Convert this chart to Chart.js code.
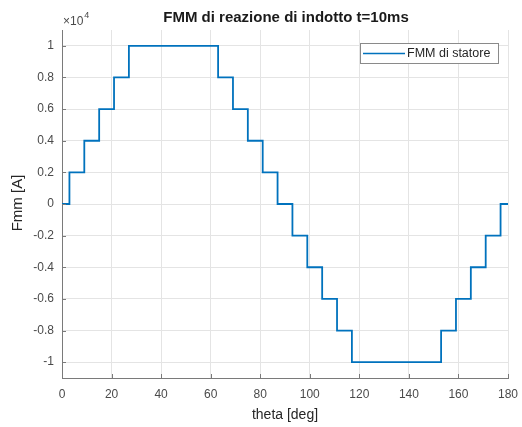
<!DOCTYPE html>
<html>
<head>
<meta charset="utf-8">
<script src="https://cdn.jsdelivr.net/npm/chart.js@4"></script>
<style>
  html, body { margin: 0; padding: 0; background: #fff; }
  #wrap { width: 522px; height: 427px; }
</style>
</head>
<body>
<div id="wrap"><canvas id="fmmChart" width="522" height="427"></canvas></div>
<script>
// ================== DATA ==================
const thetaDeg = [0, 3, 9, 15, 21, 27, 63, 69, 75, 81, 87, 93, 99, 105, 111, 117, 153, 159, 165, 171, 177, 180];
const fmmStatore = [0, 2000, 4000, 6000, 8000, 10000, 8000, 6000, 4000, 2000, 0, -2000, -4000, -6000, -8000, -10000, -8000, -6000, -4000, -2000, 0, 0];
const xTicks = [0, 20, 40, 60, 80, 100, 120, 140, 160, 180];
const yTicks = [-10000, -8000, -6000, -4000, -2000, 0, 2000, 4000, 6000, 8000, 10000];

const titleText = "FMM di reazione di indotto t=10ms";
const seriesLabel = "FMM di statore";
const xLabel = "theta [deg]";
const yLabel = "Fmm [A]";

// ================== STYLE ==================
const FONT = "'Liberation Sans', Arial, sans-serif";
const LINE_BLUE = "#0072BD";
const AXIS_GREY = "#7a7a7a";
const TEXT_GREY = "#4a4a4a";

// ================== DECORATIONS ==================
const decorations = {
  id: "decorations",
  afterDraw(chart) {
    const ctx = chart.ctx;
    const area = chart.chartArea;
    const xs = chart.scales.x;
    const ys = chart.scales.y;
    ctx.save();

    // inward tick marks
    ctx.strokeStyle = AXIS_GREY;
    ctx.lineWidth = 1;
    ctx.beginPath();
    xTicks.forEach(t => {
      const px = Math.round(xs.getPixelForValue(t)) + 0.5;
      ctx.moveTo(px, area.bottom);
      ctx.lineTo(px, area.bottom - 4);
    });
    yTicks.forEach(t => {
      const py = Math.round(ys.getPixelForValue(t)) + 0.5;
      ctx.moveTo(area.left, py);
      ctx.lineTo(area.left + 4, py);
    });
    ctx.stroke();

    // title
    ctx.fillStyle = "#1a1a1a";
    ctx.font = "bold 15px " + FONT;
    ctx.textAlign = "center";
    ctx.textBaseline = "middle";
    ctx.fillText(titleText, 286, 18);

    // exponent label
    ctx.fillStyle = TEXT_GREY;
    ctx.textAlign = "left";
    ctx.textBaseline = "alphabetic";
    ctx.font = "12px " + FONT;
    ctx.fillText("\u00d710", area.left + 1, 25);
    const w = ctx.measureText("\u00d710").width;
    ctx.font = "9px " + FONT;
    ctx.fillText("4", area.left + 1 + w + 1, 18);

    // y axis label
    ctx.save();
    ctx.translate(18, 203);
    ctx.rotate(-Math.PI / 2);
    ctx.fillStyle = "#262626";
    ctx.textAlign = "center";
    ctx.textBaseline = "middle";
    ctx.font = "15px " + FONT;
    ctx.fillText(yLabel, 0, 0);
    ctx.restore();

    // legend
    const lx = 360, ly = 43, lw = 138, lh = 20;
    ctx.fillStyle = "#ffffff";
    ctx.fillRect(lx, ly, lw, lh);
    ctx.strokeStyle = "#8a8a8a";
    ctx.lineWidth = 1;
    ctx.strokeRect(lx + 0.5, ly + 0.5, lw, lh);
    ctx.strokeStyle = LINE_BLUE;
    ctx.lineWidth = 1.6;
    ctx.beginPath();
    ctx.moveTo(lx + 3, ly + 10.5);
    ctx.lineTo(lx + 45, ly + 10.5);
    ctx.stroke();
    ctx.fillStyle = "#262626";
    ctx.font = "12.5px " + FONT;
    ctx.textAlign = "left";
    ctx.textBaseline = "middle";
    ctx.fillText(seriesLabel, lx + 47, ly + 11);

    ctx.restore();
  }
};

// ================== CHART ==================
const ctx = document.getElementById("fmmChart").getContext("2d");
new Chart(ctx, {
  type: "line",
  data: {
    datasets: [{
      label: seriesLabel,
      data: thetaDeg.map((t, i) => ({ x: t, y: fmmStatore[i] })),
      stepped: "before",
      borderColor: LINE_BLUE,
      borderWidth: 1.8,
      pointRadius: 0,
      fill: false
    }]
  },
  options: {
    responsive: false,
    animation: false,
    layout: { padding: { left: 0, right: 14, top: 30, bottom: 0 } },
    plugins: {
      legend: { display: false },
      title: { display: false },
      tooltip: { enabled: false }
    },
    scales: {
      x: {
        type: "linear",
        min: 0,
        max: 180,
        afterBuildTicks: s => { s.ticks = xTicks.map(v => ({ value: v })); },
        afterFit: s => {
          s.height = 49;
          s.paddingLeft = 0;
          s.paddingRight = 0;
        },
        grid: { color: "#e4e4e4", drawTicks: false },
        border: { color: AXIS_GREY, width: 1 },
        ticks: {
          color: TEXT_GREY,
          padding: 9,
          maxRotation: 0,
          font: { family: FONT, size: 12 }
        },
        title: {
          display: true,
          text: xLabel,
          color: "#262626",
          padding: { top: 2, bottom: 3 },
          font: { family: FONT, size: 14 }
        }
      },
      y: {
        type: "linear",
        min: -11000,
        max: 11000,
        afterBuildTicks: s => { s.ticks = yTicks.map(v => ({ value: v })); },
        afterFit: s => {
          s.width = 62;
          s.paddingTop = 0;
          s.paddingBottom = 0;
        },
        grid: { color: "#e4e4e4", drawTicks: false },
        border: { color: AXIS_GREY, width: 1 },
        ticks: {
          color: TEXT_GREY,
          padding: 8,
          font: { family: FONT, size: 12 },
          callback: v => String(+(v / 10000).toFixed(1))
        }
      }
    }
  },
  plugins: [decorations]
});
</script>
</body>
</html>
